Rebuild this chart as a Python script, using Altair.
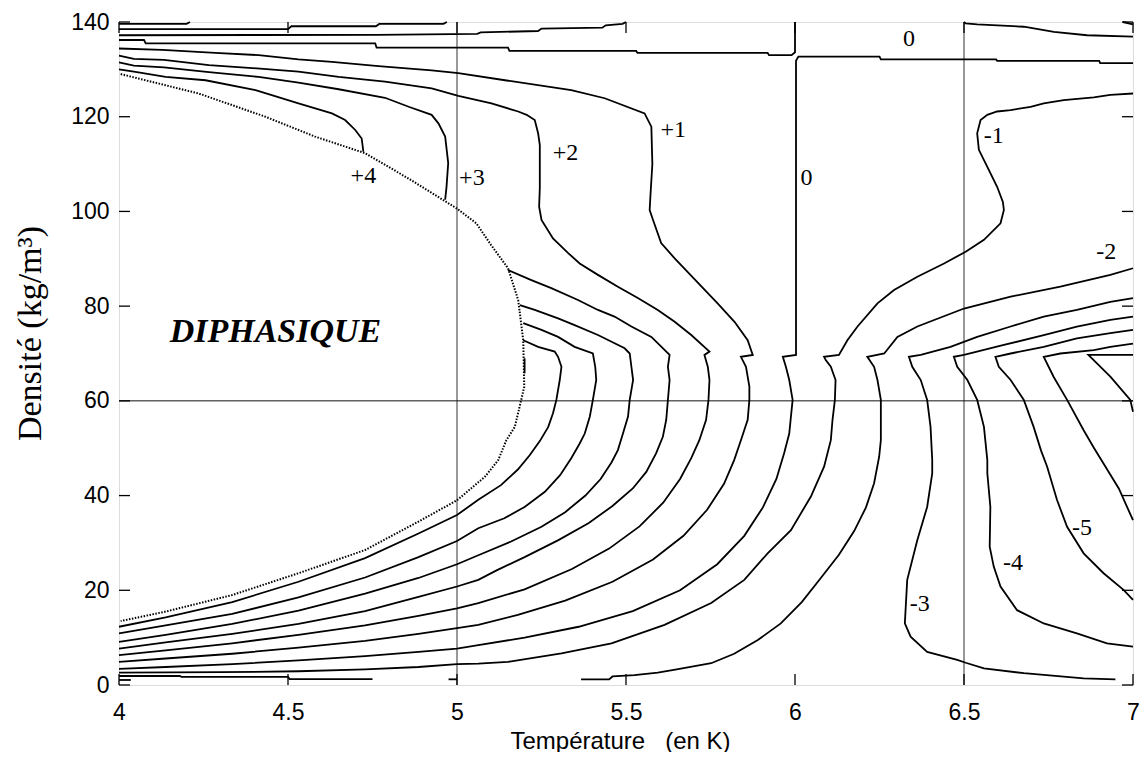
import altair as alt
import pandas as pd

W, H = 1014, 663

# ---------------- data ----------------
x_ticks = [4, 4.5, 5, 5.5, 6, 6.5, 7]
y_ticks = [0, 20, 40, 60, 80, 100, 120, 140]
cross_x = [5.0, 6.5]
cross_y = [60]

# dotted saturation curve
sat_x = [4.005, 4.236, 4.433, 4.58, 4.728, 4.86, 5.0, 5.057, 5.10, 5.151, 5.181, 5.196, 5.199, 5.19, 5.171, 5.146, 5.122, 5.083, 5.0, 4.886, 4.728, 4.531, 4.335, 4.138, 4.005]
sat_y = [129.0, 124.9, 120.0, 115.8, 112.3, 106.8, 100.6, 97.5, 93.0, 88.0, 81.3, 72.8, 63.0, 60.2, 54.5, 51.7, 47.5, 44.0, 39.0, 34.5, 28.5, 23.6, 19.0, 15.5, 13.5]

T0_x = [4.0, 4.2, 4.21]
T0_y = [139.6, 139.6, 140.0]
T1_x = [4.0, 4.5, 4.51, 4.76, 4.77, 4.96, 4.97]
T1_y = [138.5, 138.5, 139.1, 139.1, 139.6, 139.6, 140.0]
T2_x = [4.0, 4.76, 5.06, 5.07, 5.24, 5.25, 5.43, 5.44, 5.49, 5.5]
T2_y = [137.2, 137.3, 137.5, 137.8, 138.1, 138.6, 138.8, 139.3, 139.6, 140.0]
P0_x = [4.0, 4.074, 4.079, 4.758, 4.762, 5.151, 5.155, 5.53, 5.534, 5.919, 5.923, 5.99, 6.0, 6.0]
P0_y = [136.2, 136.2, 135.5, 135.5, 134.6, 134.6, 133.9, 133.9, 133.5, 133.5, 133.0, 133.0, 133.6, 140.0]
TR_x = [6.5, 6.505, 6.539, 6.677, 6.766, 6.864, 7.0]
TR_y = [140.0, 139.7, 139.5, 139.0, 137.9, 137.2, 136.9]
TC_x = [6.97, 7.0]
TC_y = [140.0, 139.5]

P4_x = [4.0, 4.044, 4.138, 4.256, 4.404, 4.531, 4.63, 4.669, 4.699, 4.718, 4.723]
P4_y = [130.0, 129.5, 128.4, 127.7, 125.6, 122.8, 120.7, 119.3, 117.2, 115.4, 112.6]
P3_x = [4.0, 4.044, 4.133, 4.266, 4.413, 4.531, 4.65, 4.787, 4.857, 4.925, 4.945, 4.965, 4.974, 4.969, 4.965]
P3_y = [131.5, 130.8, 130.4, 129.4, 128.4, 127.2, 125.8, 124.0, 122.1, 120.4, 118.6, 115.8, 110.2, 105.2, 102.5]

A_x = [4.0, 4.044, 4.133, 4.266, 4.408, 4.531, 4.65, 4.787, 4.925, 5.004, 5.102, 5.181, 5.206, 5.23, 5.24, 5.245, 5.245, 5.243, 5.25, 5.284, 5.329, 5.363, 5.417, 5.476, 5.535, 5.594, 5.644, 5.693, 5.747, 5.732, 5.742, 5.747, 5.744, 5.737, 5.717, 5.693, 5.66, 5.61, 5.54, 5.45, 5.34, 5.2, 5.063, 5.0, 4.886, 4.728, 4.531, 4.335, 4.138, 4.0]
A_y = [132.9, 132.2, 132.0, 130.9, 130.2, 129.5, 128.4, 127.4, 126.0, 124.4, 122.8, 121.1, 120.4, 119.3, 116.5, 114.0, 105.0, 101.0, 98.2, 94.3, 91.2, 89.0, 86.6, 84.1, 81.7, 79.2, 76.7, 73.9, 70.4, 69.7, 67.2, 64.4, 60.2, 56.0, 51.7, 47.9, 43.5, 38.5, 33.5, 28.8, 24.5, 20.2, 17.3, 16.2, 14.6, 12.6, 10.6, 8.8, 7.3, 6.3]
B_x = [4.0, 4.128, 4.285, 4.413, 4.531, 4.63, 4.768, 4.925, 5.004, 5.142, 5.338, 5.437, 5.555, 5.575, 5.578, 5.572, 5.57, 5.58, 5.604, 5.644, 5.771, 5.821, 5.86, 5.875, 5.84, 5.855, 5.865, 5.865, 5.86, 5.84, 5.82, 5.79, 5.74, 5.67, 5.58, 5.46, 5.32, 5.18, 5.063, 5.0, 4.886, 4.728, 4.531, 4.335, 4.138, 4.0]
B_y = [134.4, 134.1, 133.5, 133.0, 132.1, 131.6, 130.7, 129.8, 129.2, 127.7, 125.6, 123.9, 120.7, 117.9, 110.0, 103.0, 100.3, 98.2, 93.3, 90.1, 80.6, 76.7, 72.8, 69.7, 69.3, 67.2, 63.0, 60.2, 56.0, 51.7, 47.5, 42.5, 37.0, 31.5, 26.5, 21.8, 17.8, 14.8, 12.7, 12.0, 10.8, 9.3, 7.9, 6.6, 5.6, 4.9]

F_x = [5.196, 5.24, 5.289, 5.299, 5.309, 5.304, 5.294, 5.284, 5.27, 5.245, 5.215, 5.18, 5.13, 5.063, 5.0, 4.886, 4.728, 4.531, 4.335, 4.138, 4.0]
F_y = [72.8, 71.4, 70.4, 69.3, 67.2, 64.4, 60.2, 57.4, 54.5, 51.5, 48.5, 45.5, 42.2, 39.1, 35.9, 32.0, 26.8, 21.8, 17.5, 14.3, 12.3]
E_x = [5.196, 5.25, 5.299, 5.348, 5.402, 5.409, 5.412, 5.402, 5.393, 5.378, 5.363, 5.338, 5.305, 5.26, 5.2, 5.14, 5.063, 5.0, 4.886, 4.728, 4.531, 4.335, 4.138, 4.0]
E_y = [76.4, 75.0, 73.5, 71.4, 70.0, 67.2, 64.4, 60.2, 56.7, 53.1, 51.0, 47.9, 44.3, 40.8, 37.6, 35.2, 33.1, 30.4, 27.0, 22.7, 18.5, 15.0, 12.6, 10.9]
D_x = [5.186, 5.23, 5.299, 5.348, 5.417, 5.496, 5.511, 5.516, 5.521, 5.511, 5.506, 5.491, 5.476, 5.457, 5.425, 5.38, 5.32, 5.25, 5.16, 5.063, 5.0, 4.886, 4.728, 4.531, 4.335, 4.138, 4.0]
D_y = [80.2, 79.2, 77.4, 76.0, 73.9, 71.1, 70.0, 67.2, 64.4, 60.2, 56.7, 53.1, 49.6, 47.0, 43.5, 40.0, 36.5, 33.4, 30.3, 27.4, 25.5, 22.6, 19.3, 15.7, 12.9, 10.6, 9.1]
C_x = [5.151, 5.22, 5.279, 5.358, 5.417, 5.466, 5.516, 5.575, 5.629, 5.624, 5.629, 5.624, 5.619, 5.609, 5.589, 5.56, 5.52, 5.46, 5.39, 5.3, 5.2, 5.12, 5.063, 5.0, 4.886, 4.728, 4.531, 4.335, 4.138, 4.0]
C_y = [87.6, 85.5, 83.8, 81.3, 79.2, 77.8, 75.7, 73.5, 69.7, 67.2, 64.4, 60.2, 56.0, 52.4, 48.9, 45.0, 41.5, 37.8, 34.2, 30.6, 27.0, 24.3, 22.2, 20.8, 18.6, 15.6, 12.9, 10.8, 9.0, 7.7]

Z_x = [7.0, 6.903, 6.9, 6.598, 6.595, 6.254, 6.25, 6.01, 6.003, 6.003, 5.964, 5.973, 5.983, 5.993, 5.988, 5.983, 5.968, 5.945, 5.905, 5.85, 5.77, 5.66, 5.52, 5.36, 5.2, 5.063, 5.0, 4.886, 4.728, 4.531, 4.335, 4.138, 4.0]
Z_y = [131.3, 131.3, 131.8, 131.8, 132.1, 132.1, 132.7, 132.7, 131.8, 69.7, 69.3, 67.2, 64.4, 60.2, 56.7, 53.1, 49.0, 43.5, 37.5, 31.5, 25.5, 20.0, 15.6, 12.3, 10.0, 8.4, 7.7, 7.0, 6.1, 5.2, 4.4, 3.8, 3.4]

M1_x = [4.0, 4.3, 4.531, 4.728, 4.886, 5.0, 5.063, 5.151, 5.309, 5.457, 5.614, 5.752, 5.85, 5.919, 5.988, 6.047, 6.086, 6.106, 6.111, 6.118, 6.12, 6.106, 6.091, 6.086, 6.13, 6.155, 6.185, 6.244, 6.293, 6.362, 6.441, 6.505, 6.559, 6.608, 6.618, 6.615, 6.598, 6.569, 6.544, 6.539, 6.549, 6.569, 6.598, 6.638, 6.697, 6.736, 6.795, 6.884, 6.933, 7.0]
M1_y = [2.6, 2.7, 2.9, 3.3, 3.8, 4.4, 4.5, 4.9, 6.7, 8.8, 12.7, 17.3, 22.2, 27.8, 32.7, 39.8, 46.1, 51.7, 56.0, 60.2, 64.4, 67.2, 68.6, 69.3, 69.7, 72.8, 75.7, 80.6, 83.4, 86.2, 89.0, 91.5, 94.0, 97.5, 100.3, 102.0, 105.2, 109.4, 113.0, 116.5, 119.3, 120.4, 121.1, 121.4, 122.1, 122.8, 123.5, 124.1, 124.6, 124.9]
M2_x = [5.367, 5.45, 5.46, 5.525, 5.594, 5.65, 5.752, 5.82, 5.89, 5.958, 6.02, 6.07, 6.13, 6.175, 6.21, 6.234, 6.249, 6.254, 6.254, 6.244, 6.234, 6.214, 6.264, 6.303, 6.362, 6.5, 6.638, 6.785, 6.933, 7.0]
M2_y = [1.2, 1.2, 1.8, 2.1, 2.6, 3.3, 4.6, 6.6, 9.5, 13.0, 17.5, 22.0, 27.5, 32.5, 37.5, 42.6, 48.2, 51.7, 60.2, 64.4, 67.2, 69.3, 70.0, 73.5, 75.7, 79.5, 82.0, 84.1, 86.6, 88.0]
M3_x = [7.0, 6.933, 6.834, 6.736, 6.638, 6.539, 6.46, 6.372, 6.337, 6.347, 6.372, 6.391, 6.401, 6.406, 6.406, 6.391, 6.362, 6.332, 6.325, 6.342, 6.391, 6.48, 6.505, 6.559, 6.677, 6.854, 6.948]
M3_y = [81.7, 80.9, 79.2, 77.8, 75.7, 73.5, 71.4, 69.7, 69.3, 67.2, 64.4, 60.2, 54.5, 47.5, 44.7, 37.6, 30.6, 22.2, 13.0, 10.2, 7.0, 5.3, 4.7, 3.5, 2.5, 1.4, 1.2]
M4_x = [7.0, 6.933, 6.834, 6.736, 6.618, 6.5, 6.47, 6.48, 6.51, 6.539, 6.559, 6.569, 6.569, 6.578, 6.576, 6.588, 6.608, 6.657, 6.736, 6.834, 6.923, 7.0]
M4_y = [77.8, 77.1, 75.7, 73.9, 71.8, 69.7, 69.3, 67.2, 64.4, 60.2, 54.5, 47.5, 44.7, 37.6, 29.2, 25.0, 20.8, 15.8, 13.0, 10.9, 8.8, 8.1]
M5_x = [7.0, 6.933, 6.834, 6.736, 6.638, 6.593, 6.603, 6.638, 6.677, 6.706, 6.728, 6.746, 6.775, 6.805, 6.854, 6.913, 6.972, 7.0]
M5_y = [75.0, 74.3, 73.2, 71.4, 70.0, 69.3, 67.2, 64.4, 60.2, 54.5, 49.5, 46.1, 39.1, 33.4, 27.8, 23.6, 20.1, 18.0]
M6_x = [7.0, 6.933, 6.884, 6.785, 6.736, 6.765, 6.805, 6.854, 6.885, 6.915, 6.958, 7.0]
M6_y = [72.1, 71.4, 70.7, 70.0, 69.3, 65.1, 60.2, 53.8, 50.0, 46.5, 41.5, 34.8]
M7_x = [7.0, 6.868, 6.933, 6.992, 7.0]
M7_y = [69.7, 69.7, 65.1, 60.2, 57.7]

S1_x = [5.2, 5.2]
S1_y = [69.0, 65.8]
L8_x = [4.0, 4.18, 4.185, 4.5, 4.505, 4.75]
L8_y = [1.9, 1.9, 1.7, 1.7, 1.25, 1.25]
L9_x = [4.0, 4.035]
L9_y = [1.06, 1.06]
S2_x = [4.975, 5.0]
S2_y = [1.2, 1.2]

lab_text = ["+4", "+3", "+2", "+1", "0", "0", "-1", "-2", "-3", "-4", "-5"]
lab_x = [4.723, 5.044, 5.321, 5.64, 6.034, 6.337, 6.588, 6.921, 6.369, 6.645, 6.849]
lab_y = [107.5, 107.0, 112.3, 117.2, 107.0, 136.5, 115.9, 91.4, 17.2, 25.7, 33.1]

zone_text = ["DIPHASIQUE"]
zone_x = [4.463]
zone_y = [74.6]

# ---------------- tables ----------------
solid = {
    "T0": (T0_x, T0_y), "T1": (T1_x, T1_y), "T2": (T2_x, T2_y), "P0": (P0_x, P0_y),
    "TR": (TR_x, TR_y), "TC": (TC_x, TC_y), "P4": (P4_x, P4_y), "P3": (P3_x, P3_y),
    "A": (A_x, A_y), "B": (B_x, B_y), "F": (F_x, F_y), "E": (E_x, E_y),
    "D": (D_x, D_y), "C": (C_x, C_y), "Z": (Z_x, Z_y), "M1": (M1_x, M1_y),
    "M2": (M2_x, M2_y), "M3": (M3_x, M3_y), "M4": (M4_x, M4_y), "M5": (M5_x, M5_y),
    "M6": (M6_x, M6_y), "M7": (M7_x, M7_y), "S1": (S1_x, S1_y), "L8": (L8_x, L8_y),
    "L9": (L9_x, L9_y), "S2": (S2_x, S2_y),
}
rows = []
for name, (xs, ys) in solid.items():
    for i, (xv, yv) in enumerate(zip(xs, ys)):
        rows.append({"line": name, "i": i, "x": xv, "y": yv})
df_solid = pd.DataFrame(rows)
df_sat = pd.DataFrame({"i": list(range(len(sat_x))), "x": sat_x, "y": sat_y})
df_lab = pd.DataFrame({"t": lab_text, "x": lab_x, "y": lab_y})
df_zone = pd.DataFrame({"t": zone_text, "x": zone_x, "y": zone_y})
df_xt = pd.DataFrame({"x": x_ticks})
df_yt = pd.DataFrame({"y": y_ticks})
df_cx = pd.DataFrame({"x": cross_x})
df_cy = pd.DataFrame({"y": cross_y})

xscale = alt.Scale(domain=[4, 7], nice=False, zero=False)
yscale = alt.Scale(domain=[0, 140], nice=False, zero=False)

xaxis = alt.Axis(
    values=x_ticks, format="~g", title="Température\u00a0\u00a0\u00a0(en K)",
    domain=False, ticks=False, tickSize=0, grid=False, labelFlush=False,
    labelOverlap=False, labelPadding=16, labelFont="Liberation Sans",
    labelFontSize=23, labelColor="black", titleFont="Liberation Sans",
    titleFontSize=24, titleFontWeight="normal", titleColor="black",
    titleX=501, titleY=63, titleAlign="center", titleBaseline="alphabetic",
)
yaxis = alt.Axis(
    values=y_ticks, format="d", title="Densité (kg/m³)",
    domain=False, ticks=False, tickSize=0, grid=False, labelFlush=False,
    labelOverlap=False, labelPadding=10, labelFont="Liberation Sans",
    labelFontSize=23, labelColor="black", titleFont="Liberation Serif",
    titleFontSize=34, titleFontWeight="normal", titleColor="black",
    titleX=-89, titleY=311, titleAngle=270, titleAlign="center",
    titleBaseline="middle",
)

X = alt.X("x:Q", scale=xscale, axis=xaxis)
Y = alt.Y("y:Q", scale=yscale, axis=yaxis)

cross_v = alt.Chart(df_cx).mark_rule(color="#333", strokeWidth=1).encode(
    x=X, y=alt.value(0), y2=alt.value(H))
cross_h = alt.Chart(df_cy).mark_rule(color="#111", strokeWidth=1).encode(
    y=Y, x=alt.value(0), x2=alt.value(W))

lines = alt.Chart(df_solid).mark_line(color="black", strokeWidth=1.8,
                                      strokeCap="butt").encode(
    x=X, y=Y, detail="line:N", order=alt.Order("i:Q"))

sat = alt.Chart(df_sat).mark_line(color="black", strokeWidth=2,
                                  strokeDash=[1.5, 1.5]).encode(
    x=X, y=Y, order=alt.Order("i:Q"))

TL = 11
tick_b = alt.Chart(df_xt).mark_rule(color="black", strokeWidth=1.3).encode(
    x=X, y=alt.value(H), y2=alt.value(H - TL))
tick_t = alt.Chart(df_xt).mark_rule(color="black", strokeWidth=1.3).encode(
    x=X, y=alt.value(0), y2=alt.value(TL))
tick_l = alt.Chart(df_yt).mark_rule(color="black", strokeWidth=1.3).encode(
    y=Y, x=alt.value(0), x2=alt.value(TL))
tick_r = alt.Chart(df_yt).mark_rule(color="black", strokeWidth=1.3).encode(
    y=Y, x=alt.value(W - TL), x2=alt.value(W))

labels = alt.Chart(df_lab).mark_text(font="Liberation Serif", fontSize=24,
                                     color="black", align="center",
                                     baseline="middle").encode(
    x=X, y=Y, text="t:N")

zone = alt.Chart(df_zone).mark_text(font="Liberation Serif", fontSize=34,
                                    fontStyle="italic", fontWeight="bold",
                                    color="black", align="center",
                                    baseline="middle").encode(
    x=X, y=Y, text="t:N")

chart = alt.layer(
    cross_v, cross_h, lines, sat, tick_b, tick_t, tick_l, tick_r, labels, zone
).properties(
    width=W, height=H,
    autosize=alt.AutoSizeParams(type="none"),
    padding={"left": 111, "top": 14, "right": 7, "bottom": 67},
).configure_view(
    stroke="black", strokeWidth=1.5
).configure(background="white")

chart.save("out.html", embed_options={"renderer": "svg", "actions": False})
